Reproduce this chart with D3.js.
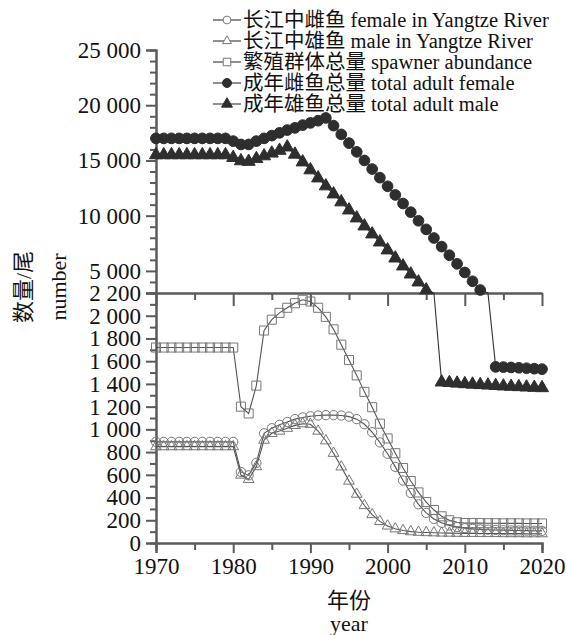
<!DOCTYPE html>
<html>
<head>
<meta charset="utf-8">
<script src="https://cdn.jsdelivr.net/npm/d3@7"></script>
<style>
  body { margin: 0; background: #fff; }
  svg { display: block; }
  text { font-family: "Liberation Serif", "Noto Sans CJK SC", serif; fill: #111; }
</style>
</head>
<body>
<div id="chart"></div>
<script>
// years on the x axis
const years = [1970, 1971, 1972, 1973, 1974, 1975, 1976, 1977, 1978, 1979,
  1980, 1981, 1982, 1983, 1984, 1985, 1986, 1987, 1988, 1989,
  1990, 1991, 1992, 1993, 1994, 1995, 1996, 1997, 1998, 1999,
  2000, 2001, 2002, 2003, 2004, 2005, 2006, 2007, 2008, 2009,
  2010, 2011, 2012, 2013, 2014, 2015, 2016, 2017, 2018, 2019, 2020];

// 长江中雌鱼 female in Yangtze River
const femaleYangtze = [890, 890, 890, 890, 890, 890, 890, 890, 890, 890,
  890, 625, 595, 705, 965, 1010, 1040, 1065, 1090, 1105,
  1115, 1122, 1125, 1125, 1122, 1112, 1090, 1045, 975, 885,
  785, 670, 550, 440, 340, 265, 212, 178, 155, 140,
  130, 124, 120, 117, 115, 113, 111, 110, 109, 108, 107];

// 长江中雄鱼 male in Yangtze River
const maleYangtze = [848, 848, 848, 848, 848, 848, 848, 848, 848, 848,
  848, 598, 560, 672, 905, 965, 985, 1010, 1035, 1050,
  1045, 985, 900, 790, 670, 545, 430, 330, 250, 190,
  150, 125, 110, 100, 95, 92, 90, 88, 87, 86,
  85, 85, 84, 84, 84, 83, 83, 83, 82, 82, 82];

// 繁殖群体总量 spawner abundance
const spawner = [1720, 1720, 1720, 1720, 1720, 1720, 1720, 1720, 1720, 1720,
  1720, 1200, 1140, 1385, 1870, 1965, 2025, 2070, 2110, 2140,
  2125, 2070, 1990, 1880, 1745, 1610, 1475, 1330, 1195, 1050,
  920, 790, 660, 545, 445, 360, 290, 235, 200, 182,
  176, 175, 175, 174, 174, 173, 173, 173, 172, 172, 172];

// 成年雌鱼总量 total adult female
const totalFemale = [17000, 17000, 17000, 17000, 17000, 17000, 17000, 17000, 17000, 17000,
  16750, 16450, 16450, 16750, 17000, 17250, 17500, 17750, 17950, 18200,
  18400, 18600, 18850, 18150, 17360, 16570, 15780, 15000, 14220, 13440,
  12660, 11880, 11100, 10320, 9540, 8760, 7980, 7200, 6420, 5640,
  4860, 4060, 3270, 2450, 1550, 1548, 1545, 1542, 1538, 1534, 1530];

// 成年雄鱼总量 total adult male
const totalMale = [15500, 15500, 15500, 15500, 15500, 15500, 15500, 15500, 15500, 15500,
  15250, 14950, 14900, 15150, 15400, 15650, 15900, 16200, 15550, 14850,
  14130, 13400, 12680, 11950, 11230, 10500, 9780, 9050, 8330, 7600,
  6880, 6150, 5430, 4700, 3980, 3260, 2450, 1415, 1410, 1405,
  1400, 1396, 1392, 1388, 1384, 1380, 1377, 1374, 1371, 1368, 1365];

const legendLabels = [
  "长江中雌鱼 female in Yangtze River",
  "长江中雄鱼 male in Yangtze River",
  "繁殖群体总量 spawner abundance",
  "成年雌鱼总量 total adult female",
  "成年雄鱼总量 total adult male"
];

const xTicks = [1970, 1980, 1990, 2000, 2010, 2020];
const lowTicks = [0, 200, 400, 600, 800, 1000, 1200, 1400, 1600, 1800, 2000, 2200];
const highTicks = [5000, 10000, 15000, 20000, 25000];

const W = 566, H = 635;
const plotL = 156, plotR = 542, plotB = 543, plotBrk = 293, plotT = 50;
const gap = [2200, 3000]; // values in here fall on the axis break
const serif = "'Liberation Serif', 'Times New Roman', serif";

const svg = d3.select("#chart").append("svg")
  .attr("width", W).attr("height", H);

const x = d3.scaleLinear().domain([1970, 2020]).range([plotL, plotR]);
const yLow = d3.scaleLinear().domain([0, 2200]).range([plotB, plotBrk]);
const yHigh = d3.scaleLinear().domain([3000, 25000]).range([plotBrk, plotT]);
const yPos = v => v <= gap[0] ? yLow(v) : yHigh(Math.max(v, gap[1]));

const fmt = d3.formatLocale({ decimal: ".", thousands: " ", grouping: [3], currency: ["", ""] }).format(",d");
const axisColor = "#5a5a5a";

function styleAxis(g) {
  g.attr("font-family", serif).attr("font-size", 23);
  g.selectAll(".domain").attr("stroke", axisColor).attr("stroke-width", 2);
  g.selectAll(".tick line").attr("stroke", axisColor).attr("stroke-width", 2);
  g.selectAll(".tick text").attr("fill", "#111")
    .style("font-family", serif).style("font-size", "23px");
}

// minor ticks first, then the labelled axes on top
const minorLow = d3.range(100, 2200, 200);
const minorHigh = d3.range(4000, 25001, 1000).filter(v => v % 5000 !== 0);
const minorX = [1975, 1985, 1995, 2005, 2015];

svg.append("g").attr("transform", `translate(${plotL},0)`)
  .call(d3.axisLeft(yLow).tickValues(minorLow).tickSize(6).tickFormat(""))
  .call(styleAxis);
svg.append("g").attr("transform", `translate(${plotL},0)`)
  .call(d3.axisLeft(yHigh).tickValues(minorHigh).tickSize(6).tickFormat(""))
  .call(styleAxis);

svg.append("g").attr("transform", `translate(${plotL},0)`)
  .call(d3.axisLeft(yLow).tickValues(lowTicks).tickSize(10).tickPadding(5).tickFormat(fmt))
  .call(styleAxis);
svg.append("g").attr("transform", `translate(${plotL},0)`)
  .call(d3.axisLeft(yHigh).tickValues(highTicks).tickSize(10).tickPadding(5).tickFormat(fmt))
  .call(styleAxis);

// bottom axis
svg.append("g").attr("transform", `translate(0,${plotB})`)
  .call(d3.axisBottom(x).tickValues(minorX).tickSize(7).tickFormat(""))
  .call(styleAxis);
svg.append("g").attr("transform", `translate(0,${plotB})`)
  .call(d3.axisBottom(x).tickValues(xTicks).tickSize(10).tickPadding(5).tickFormat(d3.format("d")))
  .call(styleAxis);

// break line with downward ticks
svg.append("g").attr("transform", `translate(0,${plotBrk})`)
  .call(d3.axisBottom(x).tickValues(minorX).tickSize(7).tickFormat("").tickSizeOuter(0))
  .call(styleAxis);
svg.append("g").attr("transform", `translate(0,${plotBrk})`)
  .call(d3.axisBottom(x).tickValues(xTicks).tickSize(13).tickFormat("").tickSizeOuter(0))
  .call(styleAxis);

// series
const series = [
  { values: spawner, symbol: d3.symbolSquare, size: 82, filled: false },
  { values: femaleYangtze, symbol: d3.symbolCircle, size: 68, filled: false },
  { values: maleYangtze, symbol: d3.symbolTriangle, size: 50, filled: false },
  { values: totalFemale, symbol: d3.symbolCircle, size: 90, filled: true },
  { values: totalMale, symbol: d3.symbolTriangle, size: 74, filled: true }
];
const legendOrder = [1, 2, 0, 3, 4];

const line = d3.line().x(d => x(d[0])).y(d => yPos(d[1]));

series.forEach(s => {
  const pts = years.map((yr, i) => [yr, s.values[i]]);
  svg.append("path").datum(pts)
    .attr("d", line)
    .attr("fill", "none")
    .attr("stroke", s.filled ? "#333" : "#555")
    .attr("stroke-width", 1.1);
  svg.append("g").selectAll("path")
    .data(pts.filter(d => d[1] <= gap[0] || d[1] >= gap[1]))
    .join("path")
    .attr("transform", d => `translate(${x(d[0])},${yPos(d[1])})`)
    .attr("d", d3.symbol().type(s.symbol).size(s.size))
    .attr("fill", s.filled ? "#2e2e2e" : "none")
    .attr("stroke", s.filled ? "#2e2e2e" : "#777")
    .attr("stroke-width", 1);
});

// legend
const legend = svg.append("g").attr("transform", "translate(213,20)");
legendOrder.forEach((si, row) => {
  const s = series[si];
  const gRow = legend.append("g").attr("transform", `translate(0,${row * 21})`);
  gRow.append("line").attr("x1", 0).attr("x2", 28).attr("y1", 0).attr("y2", 0)
    .attr("stroke", "#444").attr("stroke-width", 1.2);
  gRow.append("path").attr("transform", "translate(14,0)")
    .attr("d", d3.symbol().type(s.symbol).size(s.size * 0.7))
    .attr("fill", s.filled ? "#2e2e2e" : "#fff")
    .attr("stroke", s.filled ? "#2e2e2e" : "#777");
  gRow.append("text").attr("x", 30).attr("y", 0).attr("dy", "0.35em")
    .style("font-size", "20.5px").text(legendLabels[row]);
});

// axis titles
svg.append("text").attr("transform", "translate(23,287) rotate(-90)")
  .attr("text-anchor", "middle").attr("dy", "0.35em")
  .style("font-size", "22px").text("数量/尾");
svg.append("text").attr("transform", "translate(58,287) rotate(-90)")
  .attr("text-anchor", "middle").attr("dy", "0.35em")
  .style("font-size", "22px").text("number");
svg.append("text").attr("x", 349).attr("y", 600).attr("text-anchor", "middle")
  .attr("dy", "0.35em").style("font-size", "22px").text("年份");
svg.append("text").attr("x", 349).attr("y", 623).attr("text-anchor", "middle")
  .attr("dy", "0.35em").style("font-size", "22px").text("year");
</script>
</body>
</html>
